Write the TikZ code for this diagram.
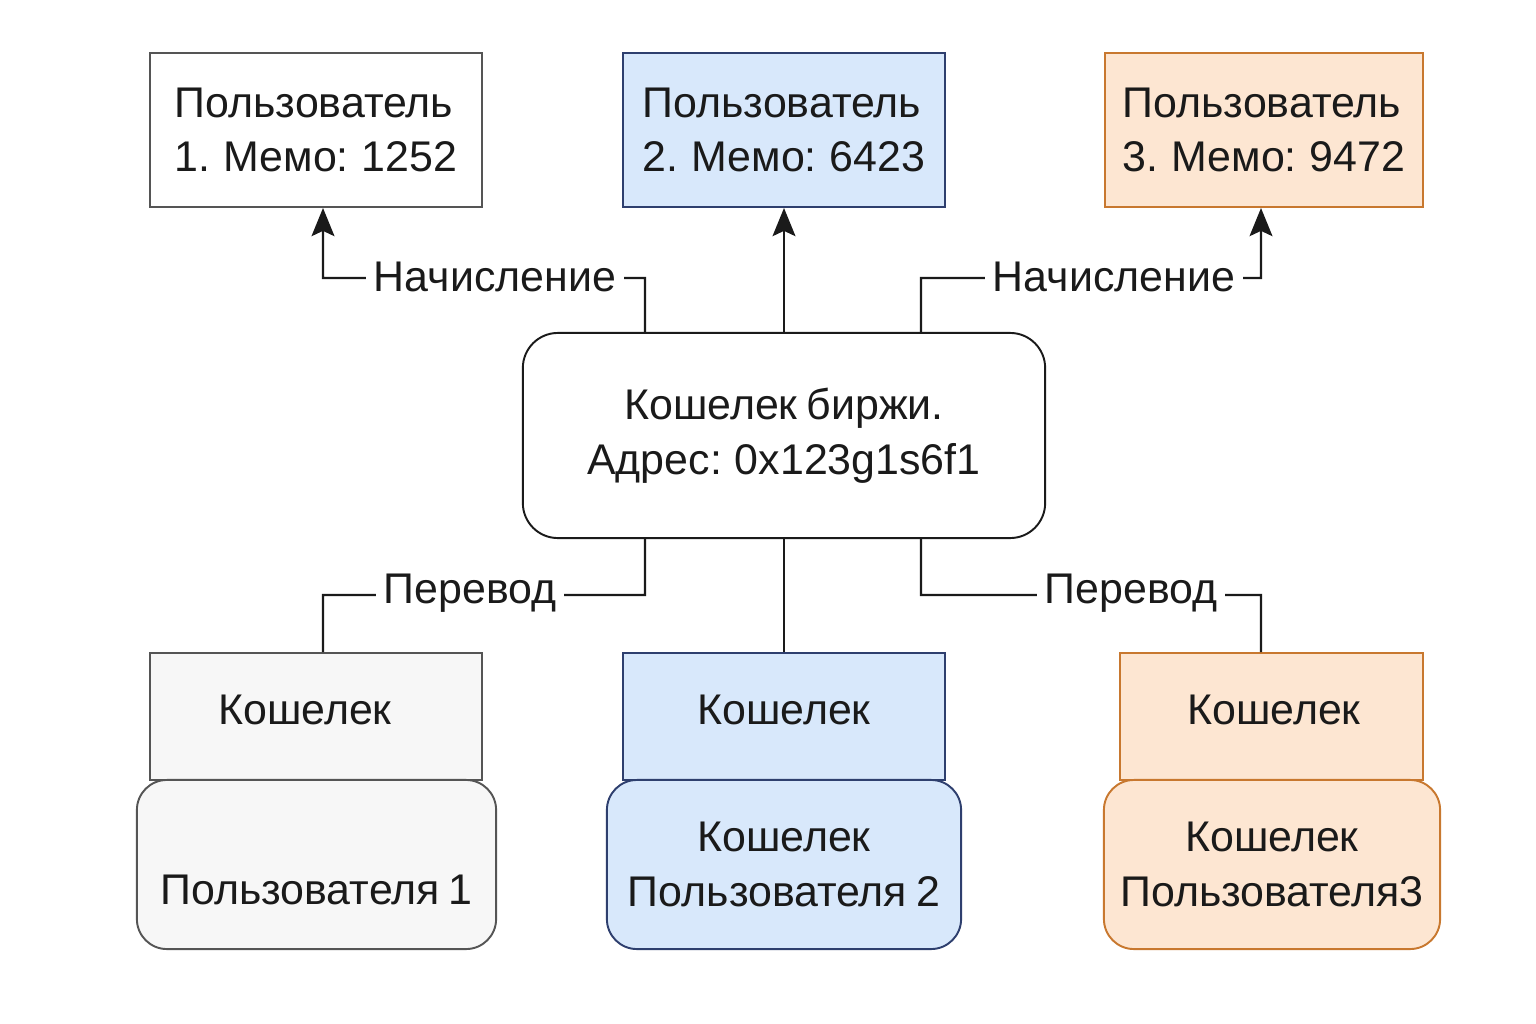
\documentclass[tikz,border=0pt]{standalone}
\usepackage{fontspec}
\setmainfont[WordSpace=0.75]{Liberation Sans}
\usetikzlibrary{arrows.meta,calc}
\definecolor{bluefill}{HTML}{D8E8FB}
\definecolor{blueline}{HTML}{2E3F6E}
\definecolor{orfill}{HTML}{FDE6D2}
\definecolor{orline}{HTML}{C8782F}
\definecolor{grfill}{HTML}{F7F7F7}
\definecolor{grline}{HTML}{555555}
\definecolor{ink}{HTML}{1A1A1A}
\begin{document}
\begin{tikzpicture}[x=0.01cm,y=-0.01cm,
  every node/.style={font=\fontsize{12.2}{15.6}\selectfont, text=ink},
  box/.style={draw, line width=0.55pt, inner sep=0pt, minimum height=1.54cm},
  userbox/.style={box, align=left},
  backbox/.style={box, minimum height=1.27cm},
  frontbox/.style={box, rounded corners=0.3cm, minimum height=1.69cm, align=center},
  plain/.style={fill=white, draw=grline},
  blue/.style={fill=bluefill, draw=blueline},
  orange/.style={fill=orfill, draw=orline},
  gray/.style={fill=grfill, draw=grline},
  conn/.style={line width=0.65pt, draw=ink},
  arr/.style={conn, -{Stealth[length=8pt,width=6.5pt,inset=1.5pt]}},
  lbl/.style={fill=white, inner xsep=2.3pt, inner ysep=1pt}
]
\useasboundingbox (0,0) rectangle (1536,1024);

% top user boxes
\node[userbox, plain, minimum width=3.32cm] (U1) at (316,130) {Пользователь\\1. Мемо: 1252};
\node[userbox, blue, minimum width=3.22cm] (U2) at (784,130) {Пользователь\\2. Мемо: 6423};
\node[userbox, orange, minimum width=3.18cm] (U3) at (1264,130) {Пользователь\\3. Мемо: 9472};

% central exchange wallet
\node[box, draw=ink, fill=white, rounded corners=0.35cm, minimum width=5.22cm, minimum height=2.05cm, align=center] (CB) at (784,435.5) {Кошелек биржи.\\Адрес: 0x123g1s6f1};

% bottom back boxes
\node[backbox, gray, minimum width=3.32cm] (B1) at (316,716.5) {};
\node[backbox, blue, minimum width=3.22cm] (B2) at (784,716.5) {};
\node[backbox, orange, minimum width=3.03cm] (B3) at (1271.5,716.5) {};
\node (B1t) at (305,710) {Кошелек};
\node (B2t) at (784,710) {Кошелек};
\node (B3t) at (1274,710) {Кошелек};

% bottom front boxes
\node[frontbox, gray, minimum width=3.59cm] (F1) at (316.5,864.5) {};
\node[frontbox, blue, minimum width=3.54cm] (F2) at (784,864.5) {Кошелек\\Пользователя 2};
\node[frontbox, orange, minimum width=3.36cm] (F3) at (1272,864.5) {Кошелек\\Пользователя3};
\node (F1t) at (316.5,890) {Пользователя 1};

% top connectors
\draw[arr] ([xshift=-1.39cm]CB.north) |- (323,278) -- ([xshift=0.07cm]U1.south);
\draw[arr] (CB.north) -- (U2.south);
\draw[arr] ([xshift=1.37cm]CB.north) |- (1261,278) -- ([xshift=-0.03cm]U3.south);
\node[lbl] (L1) at (495,277) {Начисление};
\node[lbl] (L2) at (1114,277) {Начисление};

% bottom connectors
\draw[conn] ([xshift=-1.39cm]CB.south) |- (323,595) -- ([xshift=0.07cm]B1.north);
\draw[conn] (CB.south) -- (B2.north);
\draw[conn] ([xshift=1.37cm]CB.south) |- (1261,595) -- ([xshift=-0.105cm]B3.north);
\node[lbl] (L3) at (470,593) {Перевод};
\node[lbl] (L4) at (1131,593) {Перевод};
\end{tikzpicture}
\end{document}
